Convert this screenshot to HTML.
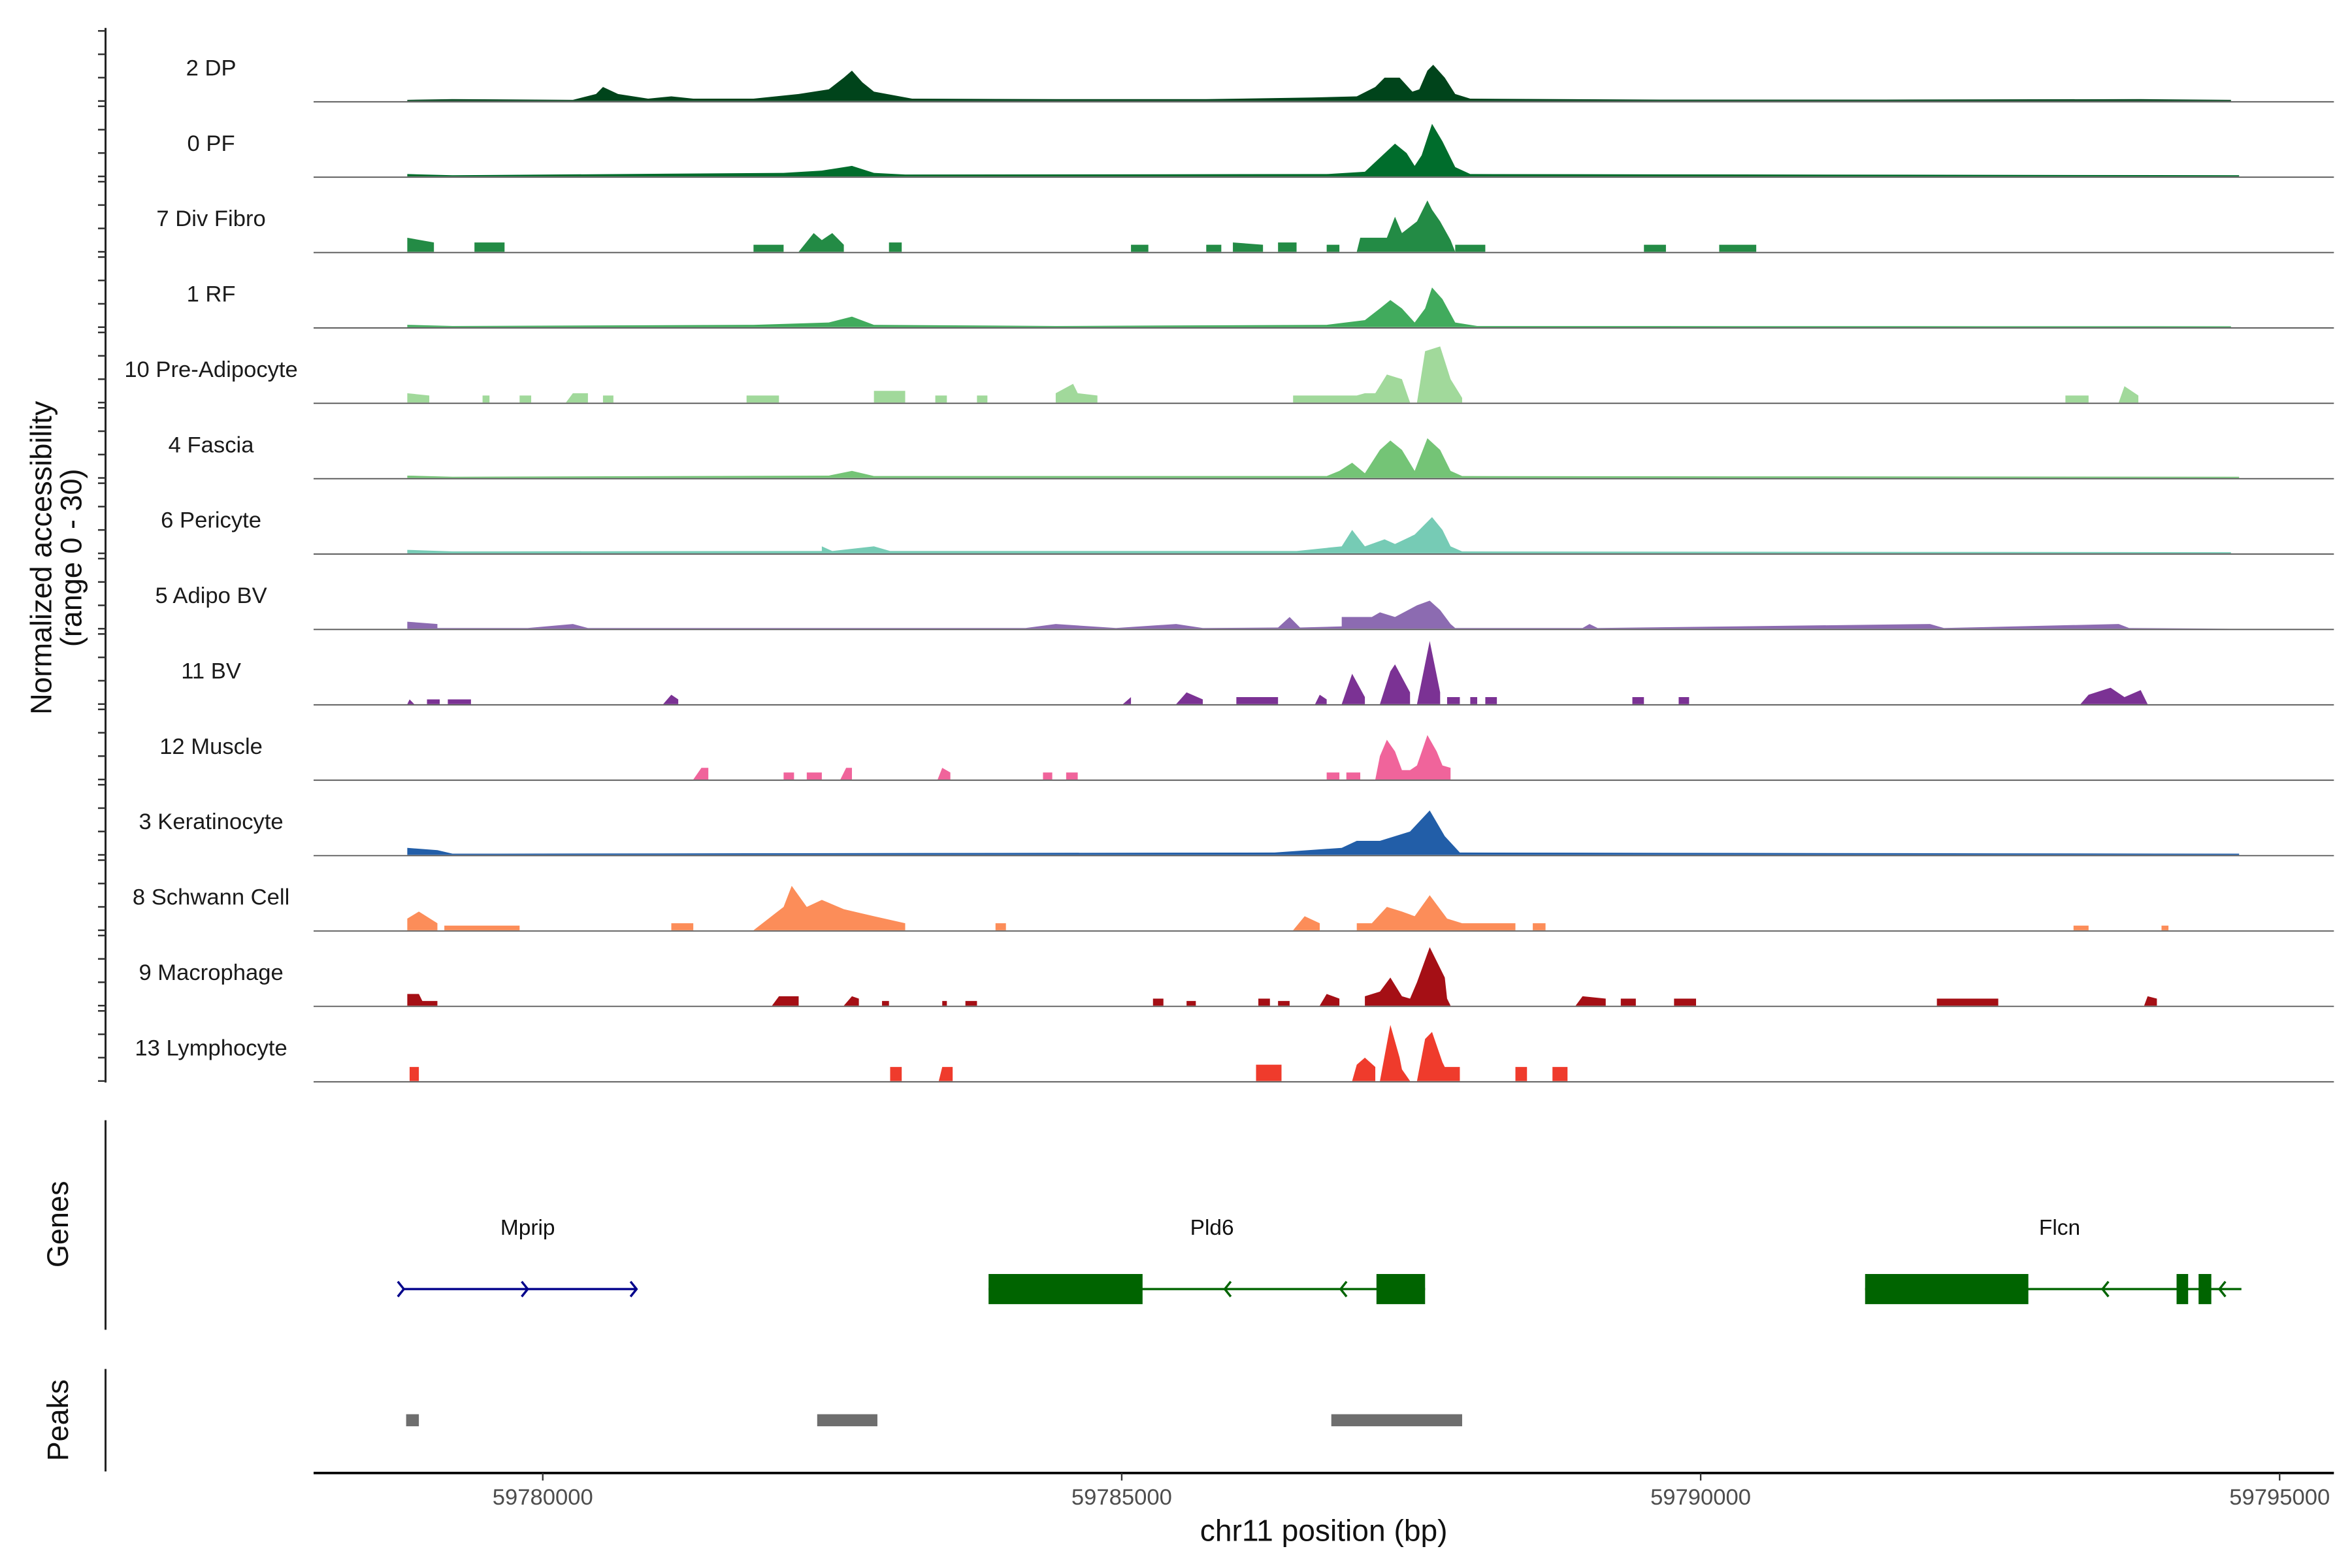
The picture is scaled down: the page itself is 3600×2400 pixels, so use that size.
<!DOCTYPE html>
<html><head><meta charset="utf-8"><style>
html,body{margin:0;padding:0;background:#fff;}
svg{display:block;font-family:"Liberation Sans",Arial,sans-serif;}
</style></head><body>
<svg id="chart" width="3600" height="2400" viewBox="0 0 1560 1040" xmlns="http://www.w3.org/2000/svg">
<g id="tracks"></g>
<g id="left"></g>
<g id="genes"></g>
<g id="peaks"></g>
<g id="xaxis"></g>
</svg>
<script>
const trackNames = ["2 DP","0 PF","7 Div Fibro","1 RF","10 Pre-Adipocyte","4 Fascia","6 Pericyte","5 Adipo BV","11 BV","12 Muscle","3 Keratinocyte","8 Schwann Cell","9 Macrophage","13 Lymphocyte"];
const trackColors = ["#00441b","#006d2c","#238b45","#41ab5d","#a1d99b","#74c476","#76cbb5","#8c6bb1","#7b3294","#f0649b","#225ea8","#fc8d59","#a50f15","#ef3b2c"];
const xTicks = [59780000,59785000,59790000,59795000];
const yTickVals = [0,10,20,30];
const tDP = [[59778.83,0.5],[59779.22,0.8],[59780.26,0.5],[59780.46,3],[59780.52,6],[59780.65,3],[59780.91,1],[59781.11,2],[59781.30,1],[59781.82,1],[59782.21,3],[59782.47,5],[59782.60,10],[59782.67,13],[59782.76,8],[59782.86,4],[59783.19,1],[59784.43,0.8],[59785.73,0.8],[59786.64,1.5],[59787.03,2],[59787.19,6],[59787.27,10],[59787.40,10],[59787.51,4],[59787.57,5],[59787.64,13],[59787.69,15.5],[59787.79,10],[59787.88,3],[59788.01,1],[59789.64,0.6],[59791.59,0.6],[59793.80,0.8],[59794.58,0.5]];
const tPF = [[59778.83,1],[59779.22,0.5],[59782.08,1.5],[59782.41,2.5],[59782.67,4.5],[59782.86,1.5],[59783.13,0.8],[59786.77,1],[59787.10,2],[59787.23,8],[59787.36,14],[59787.46,10],[59787.53,4.5],[59787.59,9],[59787.68,22.5],[59787.77,15],[59787.88,4],[59788.01,1],[59794.65,0.5]];
const tDiv = [[59778.83,0],[59778.83,6],[59779.06,4],[59779.06,0],[59779.41,0],[59779.41,4],[59779.67,4],[59779.67,0],[59781.82,0],[59781.82,3],[59782.08,3],[59782.08,0],[59782.21,0],[59782.34,8],[59782.41,5],[59782.50,8],[59782.60,3],[59782.60,0],[59782.99,0],[59782.99,4],[59783.10,4],[59783.10,0],[59785.08,0],[59785.08,3],[59785.23,3],[59785.23,0],[59785.73,0],[59785.73,3],[59785.86,3],[59785.86,0],[59785.96,0],[59785.96,4],[59786.22,3],[59786.22,0],[59786.35,0],[59786.35,4],[59786.51,4],[59786.51,0],[59786.77,0],[59786.77,3],[59786.88,3],[59786.88,0],[59787.03,0],[59787.06,6],[59787.29,6],[59787.36,15],[59787.42,8],[59787.55,13],[59787.64,22],[59787.68,18],[59787.75,13],[59787.84,5],[59787.88,0],[59787.88,3],[59788.14,3],[59788.14,0],[59789.51,0],[59789.51,3],[59789.70,3],[59789.70,0],[59790.16,0],[59790.16,3],[59790.48,3],[59790.48,0]];
const tRF = [[59778.83,1],[59779.22,0.5],[59781.82,1],[59782.47,2],[59782.67,4.5],[59782.86,1],[59784.43,0.5],[59786.77,1],[59787.10,3],[59787.23,8],[59787.32,11.6],[59787.42,8],[59787.53,2],[59787.62,8],[59787.68,17],[59787.77,12],[59787.88,2],[59788.07,0.5],[59794.58,0.4]];
const tPre = [[59778.83,0],[59778.83,4],[59779.02,3],[59779.02,0],[59779.48,0],[59779.48,3],[59779.54,3],[59779.54,0],[59779.80,0],[59779.80,3],[59779.90,3],[59779.90,0],[59780.20,0],[59780.26,4],[59780.39,4],[59780.39,0],[59780.52,0],[59780.52,3],[59780.61,3],[59780.61,0],[59781.76,0],[59781.76,3],[59782.04,3],[59782.04,0],[59782.86,0],[59782.86,5],[59783.13,5],[59783.13,0],[59783.39,0],[59783.39,3],[59783.49,3],[59783.49,0],[59783.75,0],[59783.75,3],[59783.84,3],[59783.84,0],[59784.43,0],[59784.43,4],[59784.58,8],[59784.62,4],[59784.79,3],[59784.79,0],[59786.48,0],[59786.48,3],[59787.03,3],[59787.10,4],[59787.19,4],[59787.29,12],[59787.42,10],[59787.49,0],[59787.55,0],[59787.62,22],[59787.75,24],[59787.84,10],[59787.94,2],[59787.94,0],[59793.15,0],[59793.15,3],[59793.35,3],[59793.35,0],[59793.61,0],[59793.66,7],[59793.78,3],[59793.78,0]];
const tFas = [[59778.83,1],[59779.22,0.5],[59782.47,1],[59782.67,3],[59782.86,0.8],[59786.77,0.8],[59786.88,3],[59786.99,6.5],[59787.10,2],[59787.23,12],[59787.32,16],[59787.42,12],[59787.53,3],[59787.64,17],[59787.75,12],[59787.84,3],[59787.94,0.8],[59794.65,0.5]];
const tPer = [[59778.83,1.5],[59779.22,0.8],[59782.41,1],[59782.41,3],[59782.50,1],[59782.86,3],[59783.00,1],[59786.51,1],[59786.90,3],[59786.99,10],[59787.10,3],[59787.27,6],[59787.36,4],[59787.53,8],[59787.68,15.5],[59787.77,10],[59787.84,3],[59787.94,0.8],[59794.58,0.5]];
const tABV = [[59778.83,0],[59778.83,3],[59779.09,2],[59779.09,0.3],[59779.87,0.3],[59780.26,2],[59780.39,0.3],[59784.17,0.3],[59784.43,2],[59784.95,0.3],[59785.47,2],[59785.70,0.3],[59786.35,0.5],[59786.45,5],[59786.54,0.5],[59786.90,1],[59786.90,5],[59787.16,5],[59787.23,7],[59787.36,5],[59787.55,10],[59787.66,12],[59787.75,8],[59787.84,2],[59787.88,0.3],[59788.98,0.3],[59789.04,2],[59789.11,0.3],[59791.98,2],[59792.10,0.3],[59793.61,2],[59793.70,0.3],[59794.58,0]];
const tBV = [[59778.83,0],[59778.85,2],[59778.89,0],[59779.00,0],[59779.00,2],[59779.11,2],[59779.11,0],[59779.18,0],[59779.18,2],[59779.38,2],[59779.38,0],[59781.04,0],[59781.11,4],[59781.17,2],[59781.17,0],[59785.01,0],[59785.08,3],[59785.08,0],[59785.47,0],[59785.56,5],[59785.70,2],[59785.70,0],[59785.99,0],[59785.99,3],[59786.35,3],[59786.35,0],[59786.67,0],[59786.71,4],[59786.77,2],[59786.77,0],[59786.90,0],[59786.99,13],[59787.10,3],[59787.10,0],[59787.23,0],[59787.32,14],[59787.36,17],[59787.49,5],[59787.49,0],[59787.55,0],[59787.66,27],[59787.75,5],[59787.75,0],[59787.81,0],[59787.81,3],[59787.92,3],[59787.92,0],[59788.01,0],[59788.01,3],[59788.07,3],[59788.07,0],[59788.14,0],[59788.14,3],[59788.24,3],[59788.24,0],[59789.41,0],[59789.41,3],[59789.51,3],[59789.51,0],[59789.81,0],[59789.81,3],[59789.90,3],[59789.90,0],[59793.28,0],[59793.35,4],[59793.54,7],[59793.66,3],[59793.80,6],[59793.86,0]];
const tMus = [[59781.30,0],[59781.37,5],[59781.43,5],[59781.43,0],[59782.08,0],[59782.08,3],[59782.17,3],[59782.17,0],[59782.28,0],[59782.28,3],[59782.41,3],[59782.41,0],[59782.57,0],[59782.62,5],[59782.67,5],[59782.67,0],[59783.41,0],[59783.45,5],[59783.52,3],[59783.52,0],[59784.32,0],[59784.32,3],[59784.40,3],[59784.40,0],[59784.52,0],[59784.52,3],[59784.62,3],[59784.62,0],[59786.77,0],[59786.77,3],[59786.88,3],[59786.88,0],[59786.94,0],[59786.94,3],[59787.06,3],[59787.06,0],[59787.19,0],[59787.23,10],[59787.29,17],[59787.36,12],[59787.42,4],[59787.49,4],[59787.55,6],[59787.64,19],[59787.72,12],[59787.77,6],[59787.84,5],[59787.84,0]];
const tKer = [[59778.83,3],[59779.09,2],[59779.22,0.5],[59786.32,1],[59786.90,3],[59787.03,6],[59787.23,6],[59787.36,8],[59787.49,10],[59787.66,19],[59787.79,8],[59787.92,1],[59794.65,0.5]];
const tSch = [[59778.83,0],[59778.83,5],[59778.93,8],[59779.09,3],[59779.09,0],[59779.15,0],[59779.15,2],[59779.80,2],[59779.80,0],[59781.11,0],[59781.11,3],[59781.30,3],[59781.30,0],[59781.82,0],[59781.95,5],[59782.08,10],[59782.15,19],[59782.28,10],[59782.41,13],[59782.60,9],[59782.86,6],[59783.13,3],[59783.13,0],[59783.91,0],[59783.91,3],[59784.00,3],[59784.00,0],[59786.48,0],[59786.58,6],[59786.71,3],[59786.71,0],[59787.03,0],[59787.03,3],[59787.16,3],[59787.29,10],[59787.42,8],[59787.53,6],[59787.66,15],[59787.81,5],[59787.94,3],[59788.40,3],[59788.40,0],[59788.55,0],[59788.55,3],[59788.66,3],[59788.66,0],[59793.22,0],[59793.22,2],[59793.35,2],[59793.35,0],[59793.98,0],[59793.98,2],[59794.04,2],[59794.04,0]];
const tMac = [[59778.83,0],[59778.83,5],[59778.93,5],[59778.96,2],[59779.09,2],[59779.09,0],[59781.98,0],[59782.04,4],[59782.21,4],[59782.21,0],[59782.60,0],[59782.67,4],[59782.73,3],[59782.73,0],[59782.93,0],[59782.93,2],[59782.99,2],[59782.99,0],[59783.45,0],[59783.45,2],[59783.49,2],[59783.49,0],[59783.65,0],[59783.65,2],[59783.75,2],[59783.75,0],[59785.27,0],[59785.27,3],[59785.36,3],[59785.36,0],[59785.56,0],[59785.56,2],[59785.64,2],[59785.64,0],[59786.18,0],[59786.18,3],[59786.28,3],[59786.28,0],[59786.35,0],[59786.35,2],[59786.45,2],[59786.45,0],[59786.71,0],[59786.77,5],[59786.88,3],[59786.88,0],[59787.10,0],[59787.10,4],[59787.23,6],[59787.32,12],[59787.42,4],[59787.49,3],[59787.55,10],[59787.66,25],[59787.79,12],[59787.81,3],[59787.84,0],[59788.92,0],[59788.98,4],[59789.18,3],[59789.18,0],[59789.31,0],[59789.31,3],[59789.44,3],[59789.44,0],[59789.77,0],[59789.77,3],[59789.96,3],[59789.96,0],[59792.04,0],[59792.04,3],[59792.57,3],[59792.57,0],[59793.83,0],[59793.86,4],[59793.94,3],[59793.94,0]];
const tLym = [[59778.85,0],[59778.85,6],[59778.93,6],[59778.93,0],[59783.00,0],[59783.00,6],[59783.10,6],[59783.10,0],[59783.42,0],[59783.45,6],[59783.54,6],[59783.54,0],[59786.16,0],[59786.16,7],[59786.38,7],[59786.38,0],[59786.99,0],[59787.03,7],[59787.10,10],[59787.19,6],[59787.19,0],[59787.23,0],[59787.32,24],[59787.40,10],[59787.42,5],[59787.49,0],[59787.55,0],[59787.62,18],[59787.68,21],[59787.77,8],[59787.79,6],[59787.92,6],[59787.92,0],[59788.40,0],[59788.40,6],[59788.50,6],[59788.50,0],[59788.72,0],[59788.72,6],[59788.85,6],[59788.85,0]];
const trackData = [tDP,tPF,tDiv,tRF,tPre,tFas,tPer,tABV,tBV,tMus,tKer,tSch,tMac,tLym];
const geneNames = ["Mprip","Pld6","Flcn"];
const geneStart = [59778.80,59783.85,59791.42];
const geneEnd = [59780.81,59787.62,59794.67];
const geneStrand = [1,-1,-1];
const exonStart = [[],[59783.85,59787.20],[59791.42,59794.11,59794.30]];
const exonEnd = [[],[59785.18,59787.62],[59792.83,59794.21,59794.41]];
const chevrons = [[59778.80,59779.87,59780.81],[59785.89,59786.89],[59793.47,59794.48]];
const geneLabelPos = [59779.87,59785.78,59793.10];
const peakStart = [59778.82,59782.37,59786.81];
const peakEnd = [59778.93,59782.89,59787.94];

const NS="http://www.w3.org/2000/svg";
function mk(parent,tag,attrs,text){const e=document.createElementNS(NS,tag);for(const k in attrs)e.setAttribute(k,attrs[k]);if(text!==undefined)e.textContent=text;parent.appendChild(e);return e;}
const X0=208,X1=1548;
function xs(kb){return 360+(kb-59780)*76.8;}
function xbp(bp){return xs(bp/1000);}
const trackTop=20.5, trackH=50, valScale=46.5/30;
function base(i){return 67+i*trackH;}
function ys(i,v){return base(i)-v*valScale;}

const gT=document.getElementById('tracks');
trackData.forEach((d,i)=>{
  const b=base(i);
  const lab=mk(gT,'text',{x:140,y:b-17,'text-anchor':'middle','font-size':15,fill:'#1a1a1a'},trackNames[i]);
  
  
  let pts=`${xs(d[0][0]).toFixed(2)},${b} `;
  d.forEach(p=>{pts+=`${xs(p[0]).toFixed(2)},${ys(i,p[1]).toFixed(2)} `;});
  pts+=`${xs(d[d.length-1][0]).toFixed(2)},${b}`;
  const poly=mk(gT,'polygon',{points:pts,fill:trackColors[i]});
  
  
  const ln=mk(gT,'line',{x1:X0,x2:X1,y1:b+0.5,y2:b+0.5,stroke:'#555',"stroke-width":0.8});
  
  
});

const gL=document.getElementById('left');
const ax=mk(gL,'line',{x1:70,x2:70,y1:trackTop-2,y2:base(13)+1,stroke:'#222','stroke-width':1.3});


for(let i=0;i<14;i++){
  yTickVals.forEach(v=>{
    const t=mk(gL,'line',{x1:65,x2:70,y1:ys(i,v),y2:ys(i,v),stroke:'#333','stroke-width':1.1});
    
    
  });
}
const yt=mk(gL,'text',{transform:'translate(34,370) rotate(-90)','text-anchor':'middle','font-size':19.5,fill:'#111'},'Normalized accessibility');


const yt2=mk(gL,'text',{transform:'translate(54,370) rotate(-90)','text-anchor':'middle','font-size':19.5,fill:'#111'},'(range 0 - 30)');



const gG=document.getElementById('genes');
const gl=mk(gG,'line',{x1:70,x2:70,y1:743,y2:882,stroke:'#222','stroke-width':1.3});


const gt=mk(gG,'text',{transform:'translate(45,812) rotate(-90)','text-anchor':'middle','font-size':19.5,fill:'#111'},'Genes');


const gy=855;
geneNames.forEach((n,g)=>{
  const col=geneStrand[g]>0?'#00008b':'#006400';
  const t=mk(gG,'text',{x:xs(geneLabelPos[g]),y:819,'text-anchor':'middle','font-size':14.5,fill:'#111'},n);
  
  
  const l=mk(gG,'line',{x1:xs(geneStart[g]),x2:xs(geneEnd[g]),y1:gy,y2:gy,stroke:col,'stroke-width':1.5});
  
  
  exonStart[g].forEach((s,k)=>{
    const r=mk(gG,'rect',{x:xs(s),y:845,width:xs(exonEnd[g][k])-xs(s),height:20,fill:col});
    
    
  });
  chevrons[g].forEach(c=>{
    const cx=xs(c), d=geneStrand[g]*4;
    const p=mk(gG,'polyline',{points:`${cx-d},${gy-5} ${cx},${gy} ${cx-d},${gy+5}`,fill:'none',stroke:col,'stroke-width':1.5});
    
    
  });
});

const gP=document.getElementById('peaks');
const pl=mk(gP,'line',{x1:70,x2:70,y1:908,y2:976,stroke:'#222','stroke-width':1.3});


const pt=mk(gP,'text',{transform:'translate(45,942) rotate(-90)','text-anchor':'middle','font-size':19.5,fill:'#111'},'Peaks');


peakStart.forEach((s,k)=>{
  const r=mk(gP,'rect',{x:xs(s),y:938,width:xs(peakEnd[k])-xs(s),height:8,fill:'#6e6e6e'});
  
  
});

const gX=document.getElementById('xaxis');
const xl=mk(gX,'line',{x1:X0,x2:X1,y1:977,y2:977,stroke:'#000','stroke-width':1.6});


xTicks.forEach(v=>{
  const t=mk(gX,'line',{x1:xbp(v),x2:xbp(v),y1:977,y2:982,stroke:'#333','stroke-width':1});
  
  
  const l=mk(gX,'text',{x:xbp(v),y:998,'text-anchor':'middle','font-size':15,fill:'#4d4d4d'},String(v));
  
  
});
const xt=mk(gX,'text',{x:878,y:1022,'text-anchor':'middle','font-size':20,fill:'#111'},'chr11 position (bp)');


</script>
</body></html>
